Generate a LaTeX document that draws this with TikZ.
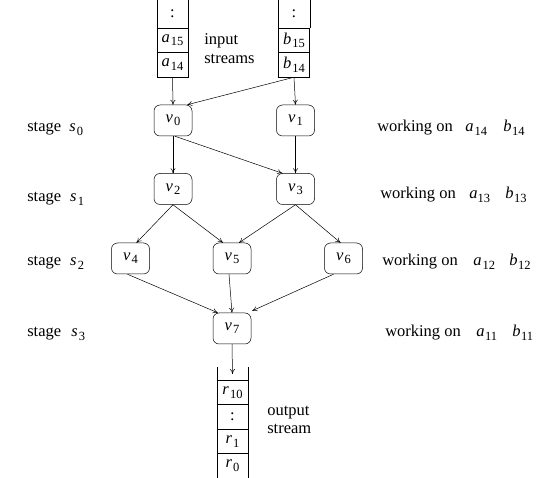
\documentclass[tikz,border=0pt]{standalone}
\usepackage{fontspec}
\setmainfont{Liberation Serif}
\usetikzlibrary{arrows.meta,calc}
% italic symbol with a lowered, slightly detached index
\newcommand{\symsub}[3][1.2pt]{\textit{#2}\kern#1\raisebox{-0.45ex}{\fontsize{12.5}{12.5}\selectfont #3}}
\tikzset{
  vbox/.style={draw, rounded corners=6pt, minimum width=38pt, minimum height=31pt, inner sep=0pt},
  cell/.style={draw, minimum width=31pt, minimum height=24.5pt, inner sep=0pt},
  flow/.style={-{To[length=5pt,width=5pt]}, line width=0.5pt},
  lbl/.style={anchor=base west, inner sep=0pt},
}
\begin{document}
\begin{tikzpicture}[x=1pt, y=-1pt, font=\fontsize{16.5}{19}\selectfont, line width=0.5pt]
\useasboundingbox (0,0) rectangle (539,478);

% input stream a
\node[cell] (a15) at (172.5,40.25) {\symsub{a}{15}};
\node[cell] (a14) at (172.5,64.75) {\symsub{a}{14}};
\draw (a15.north west) -- ++(0,-28) (a15.north east) -- ++(0,-28);
\node (adots) at (172.5,14) {:};

% input stream b
\node[cell] (b15) at (294,40.25) {\symsub{b}{15}};
\node[cell] (b14) at (294,64.75) {\symsub{b}{14}};
\draw (b15.north west) -- ++(0,-28) (b15.north east) -- ++(0,-28);
\node (bdots) at (294,14) {:};

\node[lbl] (inp) at (204,45) {input};
\node[lbl] (str) at (204,64) {streams};

% pipeline stages
\node[vbox] (v0) at (173,120.5) {\symsub{v}{0}};
\node[vbox] (v1) at (295.5,120.5) {\symsub{v}{1}};
\node[vbox] (v2) at (173,189) {\symsub{v}{2}};
\node[vbox] (v3) at (295.5,189) {\symsub{v}{3}};
\node[vbox] (v4) at (130.5,258.5) {\symsub{v}{4}};
\node[vbox] (v5) at (232,258.5) {\symsub{v}{5}};
\node[vbox] (v6) at (343.5,258.5) {\symsub{v}{6}};
\node[vbox] (v7) at (232,328.5) {\symsub{v}{7}};

% output stream r
\node[cell] (r10) at (232.5,392.5) {\symsub{r}{10}};
\node[cell] (rdots) at (232.5,417) {:};
\node[cell] (r1) at (232.5,441.5) {\symsub{r}{1}};
\node[cell] (r0) at (232.5,465.75) {\symsub{r}{0}};
\draw (r10.north west) -- ++(0,-13) (r10.north east) -- ++(0,-13);
\coordinate (rin) at ($(r10.north)+(0,-6)$);

\node[lbl] (outp) at (267,416) {output};
\node[lbl] (ostr) at (267,434) {stream};

% connectors
\draw[flow] (a14.south) -- (v0.north);
\draw[flow] (b14.south) -- ($(v0.north east)+(-5,0)$);
\draw[flow] (b14.south) -- (v1.north);
\draw[flow] (v0.south) -- (v2.north);
\draw[flow] ($(v0.south)+(2,0)$) -- ($(v3.north west)+(6,0)$);
\draw[flow] (v1.south) -- (v3.north);
\draw[flow] (v2.south) -- ($(v4.north)+(6,0)$);
\draw[flow] (v2.south) -- ($(v5.north)+(-9,0)$);
\draw[flow] (v3.south) -- ($(v5.north)+(7,0)$);
\draw[flow] (v3.south) -- ($(v6.north)+(-3,0)$);
\draw[flow] ($(v4.south)+(-3,0)$) -- ($(v7.north west)+(5,0)$);
\draw[flow] ($(v5.south)+(-3,0)$) -- (v7.north);
\draw[flow] ($(v6.south)+(-10,0)$) -- ($(v7.north east)+(1,-2)$);
\draw[flow] (v7.south) -- (rin);

% stage labels
\node[lbl] (st0) at (27,132) {stage};
\node[lbl] (s0) at (69,132) {\symsub{s}{0}};
\node[lbl] (st1) at (27,202) {stage};
\node[lbl] (s1) at (70,202) {\symsub{s}{1}};
\node[lbl] (st2) at (27,266) {stage};
\node[lbl] (s2) at (70,266) {\symsub{s}{2}};
\node[lbl] (st3) at (27,337) {stage};
\node[lbl] (s3) at (71,337) {\symsub{s}{3}};

% operands in flight
\node[lbl] (w0) at (377,132) {working on};
\node[lbl] (wa0) at (465,132) {\symsub{a}{14}};
\node[lbl] (wb0) at (503,132) {\symsub[0.5pt]{b}{14}};
\node[lbl] (w1) at (380,199) {working on};
\node[lbl] (wa1) at (469,199) {\symsub[0pt]{a}{13}};
\node[lbl] (wb1) at (505,199) {\symsub[0.5pt]{b}{13}};
\node[lbl] (w2) at (382,266) {working on};
\node[lbl] (wa2) at (473,266) {\symsub{a}{12}};
\node[lbl] (wb2) at (509,266) {\symsub[0.5pt]{b}{12}};
\node[lbl] (w3) at (385,337) {working on};
\node[lbl] (wa3) at (476,337) {\symsub[0.5pt]{a}{11}};
\node[lbl] (wb3) at (512,337) {\symsub[0.5pt]{b}{11}};
\end{tikzpicture}
\end{document}
